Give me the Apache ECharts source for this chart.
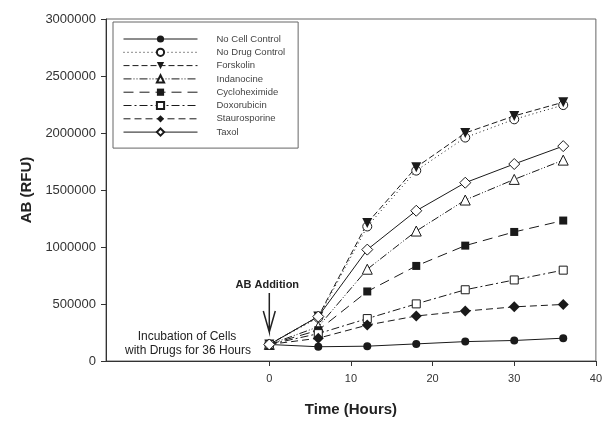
<!DOCTYPE html>
<html>
<head>
<meta charset="utf-8">
<script src="https://cdn.jsdelivr.net/npm/echarts@6/dist/echarts.min.js"></script>
<style>
  html, body { margin: 0; padding: 0; background: #fff; }
  #chart { width: 605px; height: 422px; }
</style>
</head>
<body>
<div id="chart"></div>
<script>
// time points (hours after AB addition)
const hours = [0, 6, 12, 18, 24, 30, 36];

// AB fluorescence (RFU) per treatment
const noCellControl = [145000, 125000, 130000, 150000, 170000, 180000, 200000];
const noDrugControl = [145000, 380000, 1180000, 1670000, 1960000, 2120000, 2245000];
const forskolin     = [145000, 390000, 1210000, 1700000, 2000000, 2150000, 2270000];
const indanocine    = [145000, 300000, 805000, 1140000, 1412000, 1593000, 1762000];
const cycloheximide = [145000, 270000, 610000, 834000, 1012000, 1132000, 1232000];
const doxorubicin   = [145000, 240000, 372000, 501000, 625000, 711000, 797000];
const staurosporine = [145000, 200000, 315000, 395000, 438000, 475000, 496000];
const taxol         = [145000, 390000, 977000, 1318000, 1564000, 1728000, 1885000];

const xTicks = [0, 10, 20, 30, 40];

const ink = '#1a1a1a';
const font = "'Liberation Sans', Arial, sans-serif";

function pairs(vals) {
  return hours.map((h, i) => [h, vals[i]]);
}

// filled / open marker helper
function makeSeries(name, vals, symbol, size, open, dash, rotate) {
  return {
    name: name,
    type: 'line',
    data: pairs(vals),
    symbol: symbol,
    symbolSize: size,
    symbolRotate: rotate || 0,
    lineStyle: { color: ink, width: 1, type: dash },
    itemStyle: open
      ? { color: '#fff', borderColor: ink, borderWidth: 1 }
      : { color: ink, borderColor: ink, borderWidth: 0 },
    emphasis: { disabled: true },
    z: 3
  };
}

let myChart = echarts.init(document.getElementById('chart'));

myChart.setOption({
  animation: false,
  textStyle: { fontFamily: font },
  grid: {
    left: 106,
    right: 4,
    top: 19,
    bottom: 56,
    show: true,
    borderColor: '#666',
    borderWidth: 1
  },
  legend: {
    left: 113,
    top: 22,
    orient: 'vertical',
    itemWidth: 74,
    itemHeight: 9,
    itemGap: 3.3,
    padding: [12, 13, 11, 10],
    borderColor: '#666',
    borderWidth: 1,
    backgroundColor: '#fff',
    lineStyle: { width: 1 },
    textStyle: { fontFamily: font, fontSize: 9.5, lineHeight: 10, color: '#444', padding: [0, 0, 0, 14] },
    data: ['No Cell Control', 'No Drug Control', 'Forskolin', 'Indanocine',
           'Cycloheximide', 'Doxorubicin', 'Staurosporine', 'Taxol']
  },
  xAxis: {
    type: 'value',
    min: -20,
    max: 40,
    interval: 10,
    name: 'Time (Hours)',
    nameLocation: 'middle',
    nameGap: 41,
    nameTextStyle: { fontFamily: font, fontSize: 15, fontWeight: 'bold', color: '#222' },
    axisLine: { show: true, onZero: false, lineStyle: { color: '#333', width: 1 } },
    axisTick: { show: true, length: 5, customValues: xTicks, lineStyle: { color: '#333' } },
    axisLabel: { customValues: xTicks, margin: 12, fontSize: 11, color: '#333', fontFamily: font },
    splitLine: { show: false }
  },
  yAxis: {
    type: 'value',
    min: 0,
    max: 3000000,
    interval: 500000,
    name: 'AB (RFU)',
    nameLocation: 'middle',
    nameGap: 72,
    nameRotate: 90,
    nameTextStyle: { fontFamily: font, fontSize: 15, fontWeight: 'bold', color: '#222' },
    axisLine: { show: true, onZero: false, lineStyle: { color: '#333', width: 1 } },
    axisTick: { show: true, length: 5, lineStyle: { color: '#333' } },
    axisLabel: {
      margin: 10, fontSize: 13, color: '#333', fontFamily: font,
      formatter: function (v) { return String(v); }
    },
    splitLine: { show: false }
  },
  series: [
    makeSeries('No Cell Control', noCellControl, 'circle', 8, false, 'solid'),
    makeSeries('No Drug Control', noDrugControl, 'circle', 9, true, [1, 3]),
    makeSeries('Forskolin', forskolin, 'triangle', 10, false, [6, 3], 180),
    makeSeries('Indanocine', indanocine, 'triangle', 10, true, [8, 2, 1, 2, 1, 2]),
    makeSeries('Cycloheximide', cycloheximide, 'rect', 8, false, [10, 6]),
    makeSeries('Doxorubicin', doxorubicin, 'rect', 8, true, [8, 3, 2, 3]),
    makeSeries('Staurosporine', staurosporine, 'diamond', 11, false, [7, 4]),
    makeSeries('Taxol', taxol, 'diamond', 11, true, 'solid')
  ]
});

// annotations anchored to the data coordinate of the AB addition (t = 0)
const p0 = myChart.convertToPixel({ gridIndex: 0 }, [0, 0]);
const ax = p0[0];
myChart.setOption({
  graphic: [
    {
      type: 'text',
      x: ax - 2, y: 285,
      style: { text: 'AB Addition', font: 'bold 11px ' + font, fill: '#222', align: 'center', verticalAlign: 'middle' }
    },
    {
      // shaft and open head drawn as one stroke
      type: 'polyline',
      shape: { points: [[ax + 0.01, 293], [ax, 332], [ax - 6, 311], [ax, 332], [ax + 6, 311]] },
      style: { stroke: '#222', lineWidth: 1.5, fill: null }
    },
    {
      type: 'text',
      x: 187, y: 337,
      style: { text: 'Incubation of Cells', font: '12px ' + font, fill: '#222', align: 'center', verticalAlign: 'middle' }
    },
    {
      type: 'text',
      x: 188, y: 351,
      style: { text: 'with Drugs for 36 Hours', font: '12px ' + font, fill: '#222', align: 'center', verticalAlign: 'middle' }
    }
  ]
});
</script>
</body>
</html>
